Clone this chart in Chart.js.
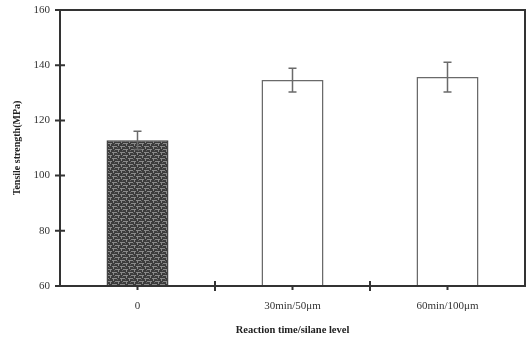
<!DOCTYPE html>
<html>
<head>
<meta charset="utf-8">
<script src="https://cdn.jsdelivr.net/npm/chart.js@4"></script>
<style>
  body { margin: 0; background: #fff; }
  #wrap { width: 528px; height: 339px; }
</style>
</head>
<body>
<div id="wrap"><canvas id="myChart"></canvas></div>
<script>
let labels = ["0", "30min/50\u03bcm", "60min/100\u03bcm"];
let strength = [112.8, 134.6, 135.7];
let errors = [3.3, 4.3, 5.4];
let yTicks = [60, 80, 100, 120, 140, 160];

// dark speckled texture for the first bar
function makePattern() {
    let c = document.createElement("canvas");
    c.width = 8;
    c.height = 6;
    let g = c.getContext("2d");
    g.fillStyle = "#3c3c3c";
    g.fillRect(0, 0, 8, 6);
    g.fillStyle = "#8a8a8a";
    g.fillRect(0, 2, 5, 1);
    g.fillRect(3, 5, 5, 1);
    g.fillRect(6, 0, 1, 2);
    g.fillRect(1, 3, 1, 2);
    g.fillStyle = "#666";
    g.fillRect(2, 0, 1, 1);
    g.fillRect(5, 3, 1, 1);
    return g.createPattern(c, "repeat");
}

let frame = {
    id: "frame",
    afterDatasetsDraw(chart) {
        let ctx = chart.ctx;
        let x = chart.scales.x, y = chart.scales.y;
        ctx.save();
        ctx.strokeStyle = "#6a6a6a";
        ctx.lineWidth = 1.5;
        strength.forEach((v, i) => {
            let px = x.getPixelForValue(i);
            let top = y.getPixelForValue(v + errors[i]);
            let bot = y.getPixelForValue(v - errors[i]);
            ctx.beginPath();
            ctx.moveTo(px, top);
            ctx.lineTo(px, bot);
            ctx.moveTo(px - 4, top);
            ctx.lineTo(px + 4, top);
            ctx.moveTo(px - 4, bot);
            ctx.lineTo(px + 4, bot);
            ctx.stroke();
        });
        ctx.restore();
    },
    afterDraw(chart) {
        let ctx = chart.ctx;
        let a = chart.chartArea;
        let x = chart.scales.x, y = chart.scales.y;
        ctx.save();
        ctx.strokeStyle = "#333";
        ctx.lineWidth = 2;
        ctx.strokeRect(a.left, a.top, a.right - a.left, a.bottom - a.top);
        ctx.beginPath();
        yTicks.forEach(t => {
            let py = y.getPixelForValue(t);
            ctx.moveTo(a.left - 5, py);
            ctx.lineTo(a.left + 5, py);
        });
        let step = (a.right - a.left) / labels.length;
        for (let i = 1; i < labels.length; i++) {
            let px = a.left + step * i;
            ctx.moveTo(px, a.bottom - 5);
            ctx.lineTo(px, a.bottom + 5);
        }
        labels.forEach((l, i) => {
            let px = x.getPixelForValue(i);
            ctx.moveTo(px, a.bottom);
            ctx.lineTo(px, a.bottom + 4);
        });
        ctx.stroke();
        ctx.restore();
    }
};

new Chart("myChart", {
    type: "bar",
    data: {
        labels: labels,
        datasets: [{
            data: strength,
            backgroundColor: [makePattern(), "#fff", "#fff"],
            borderColor: ["#444", "#6a6a6a", "#6a6a6a"],
            borderWidth: 1.5,
            barPercentage: 0.4,
            categoryPercentage: 1
        }]
    },
    plugins: [frame],
    options: {
        responsive: true,
        maintainAspectRatio: false,
        animation: false,
        layout: { padding: { top: 10, right: 3 } },
        plugins: {
            legend: { display: false },
            tooltip: { enabled: false }
        },
        scales: {
            x: {
                afterFit: s => { s.height = 53; },
                grid: { display: false, drawTicks: false },
                border: { display: false },
                ticks: {
                    padding: 14,
                    color: "#333",
                    maxRotation: 0,
                    font: { family: "Liberation Serif", size: 11 }
                },
                title: {
                    display: true,
                    text: "Reaction time/silane level",
                    color: "#222",
                    padding: { bottom: 2 },
                    font: { family: "Liberation Serif", size: 10.5, weight: "bold" }
                }
            },
            y: {
                min: 60,
                max: 160,
                afterFit: s => { s.width = 60; s.paddingTop = 0; s.paddingBottom = 0; },
                grid: { display: false, drawTicks: false },
                border: { display: false },
                ticks: {
                    stepSize: 20,
                    padding: 10,
                    color: "#333",
                    font: { family: "Liberation Serif", size: 11 }
                },
                title: {
                    display: true,
                    text: "Tensile strength(MPa)",
                    color: "#222",
                    padding: { top: 11 },
                    font: { family: "Liberation Serif", size: 10, weight: "bold" }
                }
            }
        }
    }
});
</script>
</body>
</html>
